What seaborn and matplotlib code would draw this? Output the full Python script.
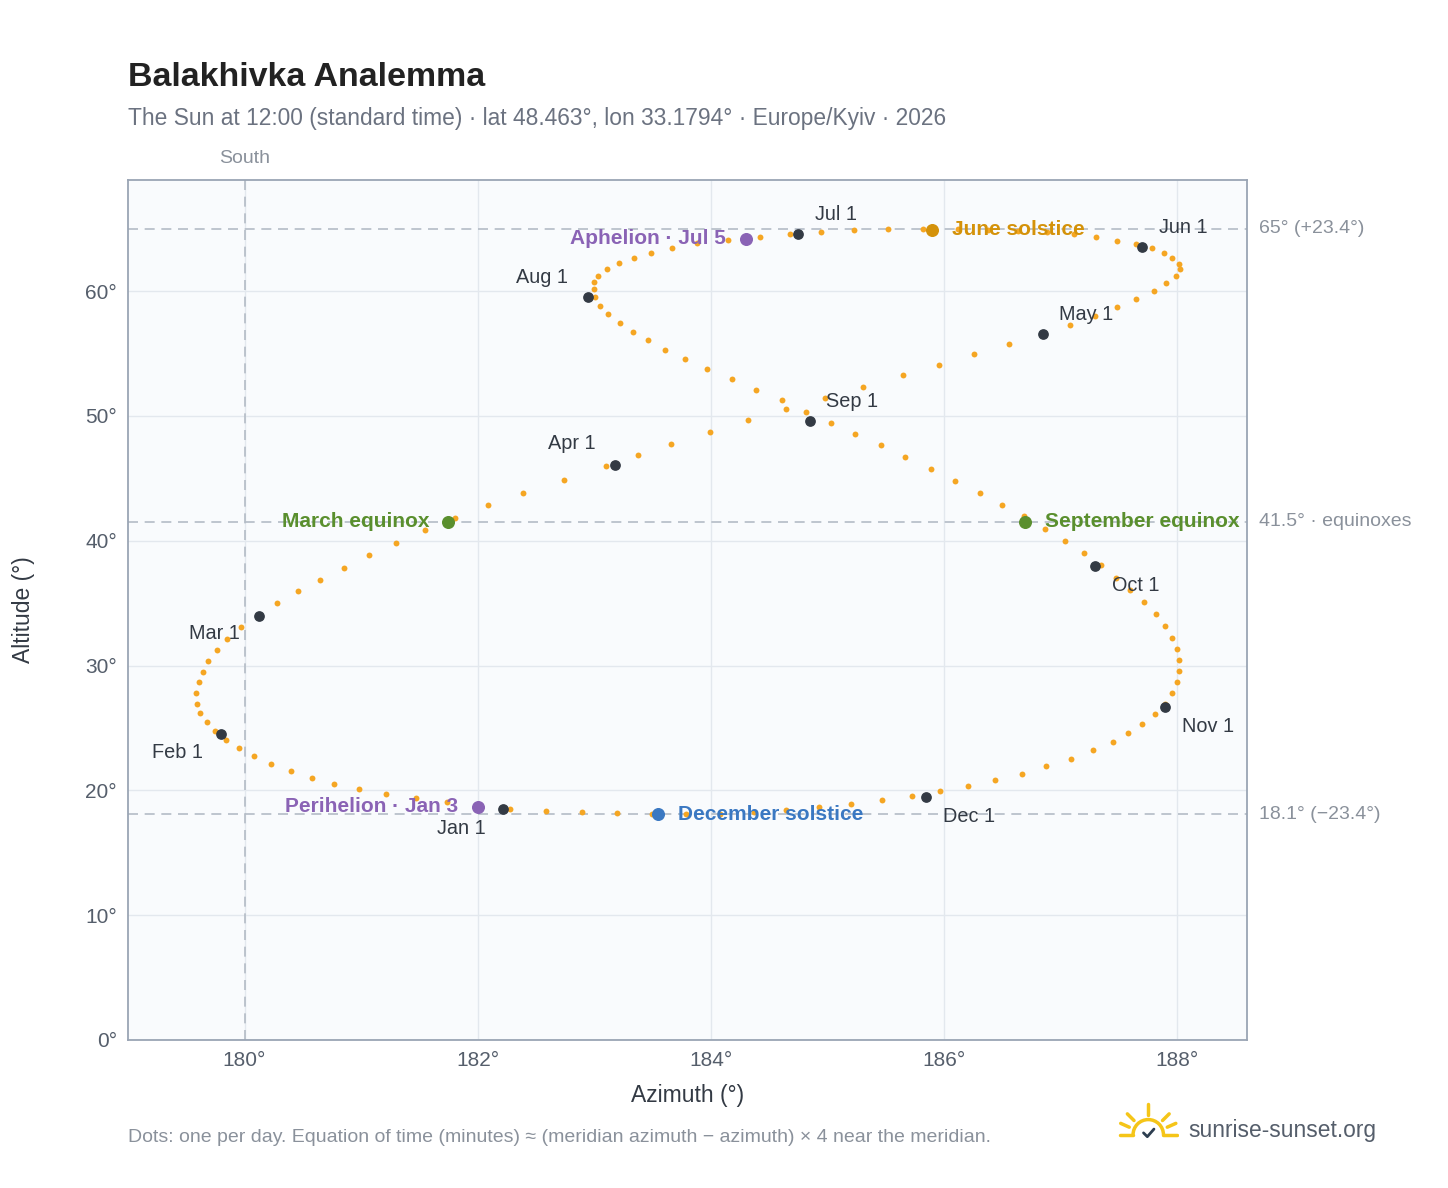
import matplotlib
matplotlib.use("Agg")
import matplotlib.pyplot as plt
from matplotlib.patches import Arc
import seaborn as sns
import pandas as pd

sns.set_theme(style="white")
plt.rcParams['font.family'] = ['Liberation Sans', 'DejaVu Sans']

# sampled path (about every 2.5 days), azimuth / altitude in degrees
azimuth = [182.28, 182.00, 181.74, 181.47, 181.21, 180.98, 180.77, 180.58, 180.40, 180.23,
           180.08, 179.95, 179.84, 179.75, 179.68, 179.62, 179.59, 179.58, 179.61, 179.64,
           179.69, 179.76, 179.85, 179.97, 180.12, 180.28, 180.46, 180.65, 180.85, 181.07,
           181.30, 181.55, 181.81, 182.09, 182.39, 182.74, 183.10, 183.38, 183.66, 183.99,
           184.32, 184.65, 184.98, 185.31, 185.65, 185.96, 186.26, 186.56, 186.84, 187.08,
           187.30, 187.49, 187.65, 187.80, 187.91, 187.99, 188.03, 188.02, 187.96, 187.89,
           187.79, 187.65, 187.49, 187.31, 187.12, 186.89, 186.64, 186.38, 186.12, 185.82,
           185.52, 185.23, 184.95, 184.68, 184.42, 184.15, 183.88, 183.67, 183.49, 183.34,
           183.21, 183.11, 183.03, 183.00, 183.00, 183.01, 183.05, 183.12, 183.22, 183.33,
           183.46, 183.61, 183.78, 183.97, 184.18, 184.39, 184.61, 184.82, 185.03, 185.24,
           185.46, 185.67, 185.89, 186.10, 186.31, 186.50, 186.69, 186.87, 187.04, 187.20,
           187.35, 187.48, 187.60, 187.72, 187.82, 187.90, 187.96, 188.00, 188.02, 188.02,
           188.00, 187.96, 187.90, 187.81, 187.70, 187.58, 187.45, 187.28, 187.09, 186.88,
           186.67, 186.44, 186.21, 185.97, 185.73, 185.47, 185.20, 184.93, 184.65, 184.37,
           184.08, 183.79, 183.50, 183.20, 182.90, 182.59]
altitude = [18.54, 18.75, 19.04, 19.37, 19.74, 20.12, 20.54, 21.02, 21.54, 22.12,
            22.74, 23.37, 24.04, 24.72, 25.44, 26.18, 26.94, 27.78, 28.64, 29.49,
            30.34, 31.24, 32.14, 33.08, 34.04, 34.98, 35.94, 36.88, 37.84, 38.83,
            39.84, 40.84, 41.84, 42.84, 43.84, 44.90, 45.95, 46.85, 47.74, 48.69,
            49.64, 50.54, 51.44, 52.34, 53.24, 54.09, 54.94, 55.75, 56.54, 57.30,
            58.04, 58.70, 59.34, 60.00, 60.64, 61.20, 61.74, 62.20, 62.64, 63.05,
            63.44, 63.76, 64.04, 64.30, 64.54, 64.70, 64.84, 64.93, 64.98, 64.98,
            64.94, 64.86, 64.74, 64.56, 64.34, 64.10, 63.84, 63.46, 63.04, 62.65,
            62.24, 61.75, 61.24, 60.70, 60.14, 59.50, 58.84, 58.15, 57.44, 56.75,
            56.04, 55.30, 54.54, 53.75, 52.94, 52.10, 51.24, 50.35, 49.44, 48.55,
            47.64, 46.70, 45.74, 44.80, 43.84, 42.90, 41.94, 40.95, 39.94, 39.00,
            38.04, 37.05, 36.04, 35.10, 34.14, 33.20, 32.24, 31.35, 30.44, 29.55,
            28.64, 27.80, 26.94, 26.15, 25.34, 24.60, 23.84, 23.20, 22.54, 21.95,
            21.34, 20.85, 20.34, 19.95, 19.54, 19.25, 18.94, 18.70, 18.44, 18.30,
            18.14, 18.12, 18.10, 18.17, 18.24, 18.38]

month_labels = ["Jan 1", "Feb 1", "Mar 1", "Apr 1", "May 1", "Jun 1",
                "Jul 1", "Aug 1", "Sep 1", "Oct 1", "Nov 1", "Dec 1"]
month_az = [182.22, 179.80, 180.12, 183.18, 186.85, 187.70, 184.75, 182.95, 184.85, 187.30, 187.90, 185.85]
month_alt = [18.5, 24.5, 34.0, 46.1, 56.6, 63.5, 64.6, 59.5, 49.6, 38.0, 26.7, 19.5]
month_off = [(-48, -14), (-50, -13), (-50, -13), (-48, 15), (12, 14), (12, 14),
             (12, 14), (-52, 14), (12, 14), (12, -14), (12, -14), (12, -14)]

events = ["June solstice", "March equinox", "September equinox", "December solstice",
          "Perihelion · Jan 3", "Aphelion · Jul 5"]
event_az = [185.90, 181.75, 186.70, 183.55, 182.00, 184.30]
event_alt = [64.9, 41.5, 41.5, 18.1, 18.7, 64.2]
event_col = ["#d4920a", "#5a8f2e", "#5a8f2e", "#3a78c2", "#8a63b5", "#8a63b5"]
event_side = ["r", "l", "r", "r", "l", "l"]

ref_alt = [65.0, 41.5, 18.1]
ref_lab = ["65° (+23.4°)", "41.5° · equinoxes", "18.1° (−23.4°)"]

fig = plt.figure(figsize=(14.48, 11.88), dpi=100)
ax = fig.add_axes([0.0884, 0.1246, 0.7726, 0.7239])
ax.set_facecolor("#f9fbfd")

df = pd.DataFrame({"az": azimuth, "alt": altitude})
sns.scatterplot(data=df, x="az", y="alt", ax=ax, color="#f5a623", s=18, linewidth=0, zorder=3)

ax.set_xlim(179.0, 188.6)
ax.set_ylim(0, 68.9)
ax.set_xticks([180, 182, 184, 186, 188])
ax.set_xticklabels(["180°", "182°", "184°", "186°", "188°"])
ax.set_yticks(range(0, 61, 10))
ax.set_yticklabels([f"{v}°" for v in range(0, 61, 10)])
ax.grid(True, color="#e3e8ee", linewidth=1)
ax.tick_params(colors="#555e6b", labelsize=15, length=0, pad=8)
for s in ax.spines.values():
    s.set_color("#9aa5b4")
    s.set_linewidth(1.3)

for a, lab in zip(ref_alt, ref_lab):
    ax.axhline(a, color="#b4bcc6", ls=(0, (6, 4)), lw=1.2, zorder=1)
    ax.annotate(lab, (1.0, a), xycoords=("axes fraction", "data"), xytext=(9, 0),
                textcoords="offset points", va="center", ha="left", fontsize=14, color="#8a919b",
                annotation_clip=False)
ax.axvline(180, color="#b4bcc6", ls=(0, (6, 4)), lw=1.2, zorder=1)
ax.annotate("South", (180, 1.0), xycoords=("data", "axes fraction"), xytext=(0, 9),
            textcoords="offset points", ha="center", va="bottom", fontsize=14, color="#8a919b")

ax.scatter(month_az, month_alt, s=45, color="#333a44", zorder=5)
for x, y, t, (dx, dy) in zip(month_az, month_alt, month_labels, month_off):
    ax.annotate(t, (x, y), xytext=(dx, dy), textcoords="offset points", fontsize=14.3,
                color="#333a44", ha="left", va="center", zorder=6)

for x, y, t, c, sd in zip(event_az, event_alt, events, event_col, event_side):
    ax.scatter([x], [y], s=70, color=c, zorder=6)
    ax.annotate(t, (x, y), xytext=(14 if sd == "r" else -14, 0), textcoords="offset points",
                fontsize=15, fontweight="bold", color=c, ha="left" if sd == "r" else "right",
                va="center", zorder=7)

ax.set_xlabel("Azimuth (°)", fontsize=16.5, color="#333a44", labelpad=10)
ax.set_ylabel("Altitude (°)", fontsize=16.5, color="#333a44", labelpad=36)

fig.text(0.0884, 0.928, "Balakhivka Analemma", fontsize=24.5, fontweight="bold", color="#222222")
fig.text(0.0884, 0.895, "The Sun at 12:00 (standard time) · lat 48.463°, lon 33.1794° · Europe/Kyiv · 2026",
         fontsize=16.4, color="#6b7280")
fig.text(0.0884, 0.039, "Dots: one per day. Equation of time (minutes) ≈ (meridian azimuth − azimuth) × 4 near the meridian.",
         fontsize=14, color="#8a919b")
fig.text(0.821, 0.043, "sunrise-sunset.org", fontsize=16.4, color="#555e6b")

# logo
lax = fig.add_axes([0.772, 0.040, 0.042, 0.032])
lax.set_xlim(-1.6, 1.6)
lax.set_ylim(-0.3, 1.7)
lax.axis("off")
lax.add_patch(Arc((0, 0), 1.6, 1.6, theta1=0, theta2=180, color="#f5c518", lw=2.5))
lax.plot([-1.5, -0.8], [0, 0], color="#f5c518", lw=2.5)
lax.plot([0.8, 1.5], [0, 0], color="#f5c518", lw=2.5)
for (x0, y0, x1, y1) in [(0, 1.05, 0, 1.6), (-0.75, 0.75, -1.1, 1.1), (0.75, 0.75, 1.1, 1.1),
                         (-1.0, 0.4, -1.45, 0.6), (1.0, 0.4, 1.45, 0.6)]:
    lax.plot([x0, x1], [y0, y1], color="#f5c518", lw=2.5)
lax.plot([-0.25, -0.05, 0.3], [0.1, -0.1, 0.3], color="#2d3e50", lw=2)

fig.savefig("out.png", dpi=100, facecolor="white")
